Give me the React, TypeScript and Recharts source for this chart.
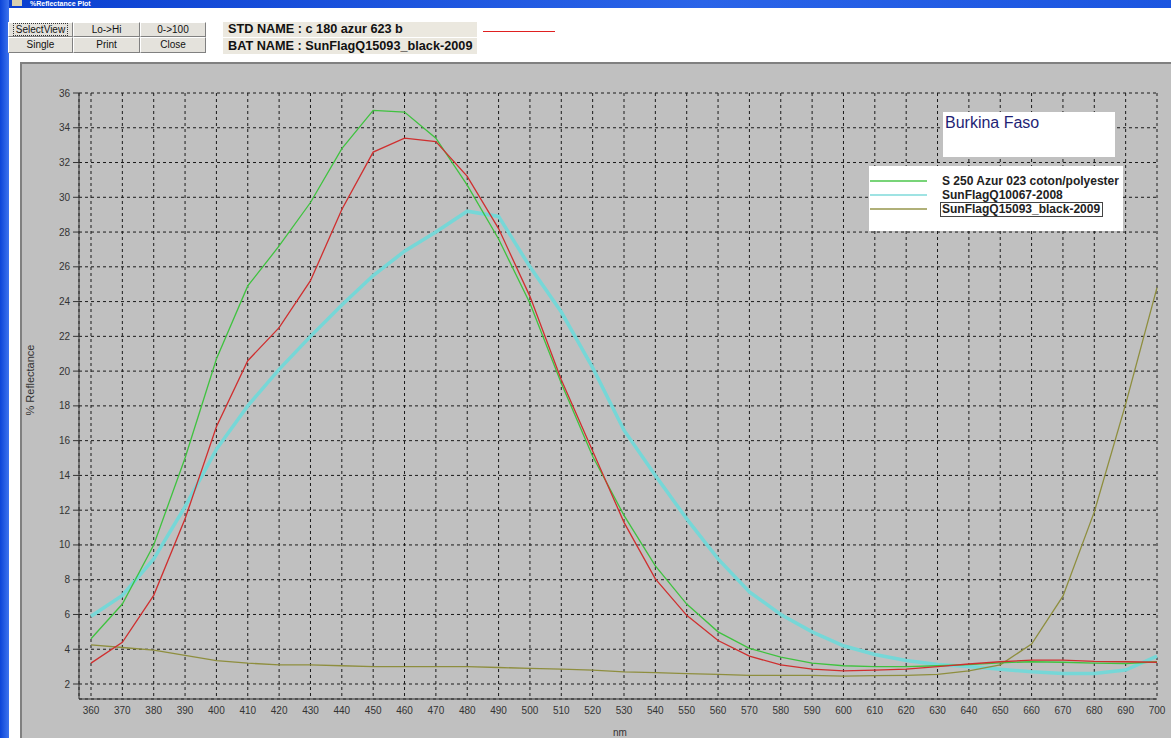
import React from 'react';
import { LineChart, Line, XAxis, YAxis, CartesianGrid } from 'recharts';

// Wavelengths (nm) sampled every 10 nm
const wavelengths = [
  360, 370, 380, 390, 400, 410, 420, 430, 440, 450, 460, 470, 480, 490, 500, 510, 520,
  530, 540, 550, 560, 570, 580, 590, 600, 610, 620, 630, 640, 650, 660, 670, 680, 690, 700,
];

// Standard: c 180 azur 623 b (red)
const stdAzur623 = [
  3.2, 4.4, 7.1, 11.5, 16.8, 20.6, 22.5, 25.2, 29.3, 32.6, 33.4, 33.2, 31.2, 28.2, 24.3, 19.5, 15.4,
  11.3, 8.05, 5.95, 4.5, 3.6, 3.1, 2.85, 2.75, 2.8, 2.85, 3.0, 3.15, 3.28, 3.37, 3.37, 3.3, 3.28, 3.25,
];

// S 250 Azur 023 coton/polyester (green)
const s250Azur023 = [
  4.6, 6.6, 10.0, 15.0, 20.7, 24.9, 27.2, 29.7, 32.8, 35.0, 34.9, 33.4, 30.7, 27.6, 23.9, 19.3, 15.1,
  11.7, 8.8, 6.6, 5.0, 4.05, 3.55, 3.2, 3.05, 3.0, 3.0, 3.05, 3.12, 3.22, 3.28, 3.25, 3.2, 3.18, 3.28,
];

// SunFlagQ10067-2008 (cyan)
const sunFlagQ10067 = [
  5.9, 7.1, 9.2, 12.2, 15.5, 18.0, 20.1, 22.0, 23.8, 25.5, 26.9, 28.0, 29.2, 28.9, 26.0, 23.4, 20.2,
  16.6, 14.0, 11.5, 9.2, 7.3, 6.0, 5.0, 4.2, 3.7, 3.35, 3.12, 3.0, 2.85, 2.7, 2.6, 2.6, 2.8, 3.6,
];

// SunFlagQ15093_black-2009 (olive)
const sunFlagQ15093 = [
  4.25, 4.1, 3.95, 3.65, 3.35, 3.2, 3.1, 3.1, 3.05, 3.0, 3.0, 3.0, 3.0, 2.95, 2.9, 2.85, 2.8,
  2.7, 2.65, 2.6, 2.55, 2.5, 2.5, 2.5, 2.45, 2.48, 2.5, 2.55, 2.75, 3.1, 4.3, 7.05, 11.9, 18.1, 24.8,
];

const reflectanceTicks = [2, 4, 6, 8, 10, 12, 14, 16, 18, 20, 22, 24, 26, 28, 30, 32, 34, 36];

const legendNames = ['S 250 Azur 023 coton/polyester', 'SunFlagQ10067-2008', 'SunFlagQ15093_black-2009'];
const buttonLabels = [['SelectView', 'Lo->Hi', '0->100'], ['Single', 'Print', 'Close']];

const COLORS = {
  std: '#cf2f2f',
  s250: '#3fc23f',
  q10067: '#76d7d7',
  q15093: '#8e8e3e',
};

const rows = wavelengths.map((nm, i) => ({
  nm,
  std: stdAzur623[i],
  s250: s250Azur023[i],
  q10067: sunFlagQ10067[i],
  q15093: sunFlagQ15093[i],
}));

const FONT = '"Liberation Sans", Arial, sans-serif';
const tickStyle = { fontSize: 10, fill: '#333', fontFamily: FONT };

const btnStyle = (left: number, top: number, width: number, height: number): React.CSSProperties => ({
  position: 'absolute',
  left,
  top,
  width,
  height,
  boxSizing: 'border-box',
  background: '#e4e2dc',
  borderTop: '1px solid #ffffff',
  borderLeft: '1px solid #ffffff',
  borderRight: '1px solid #808080',
  borderBottom: '1px solid #808080',
  fontFamily: FONT,
  fontSize: 10,
  color: '#111',
  textAlign: 'center',
  lineHeight: `${height - 2}px`,
});

const nameStyle = (top: number, height: number): React.CSSProperties => ({
  position: 'absolute',
  left: 223,
  top,
  width: 254,
  height,
  background: '#ebe8df',
  fontWeight: 'bold',
  fontSize: 12.7,
  lineHeight: `${height}px`,
  paddingLeft: 5,
  boxSizing: 'border-box',
  color: '#111',
  whiteSpace: 'nowrap',
});

export default function App() {
  const colX = [8, 73, 140];
  const colW = [65, 67, 66];
  const rowY = [22, 37];
  const rowH = [15, 16];

  return (
    <div
      style={{
        position: 'absolute',
        left: 0,
        top: 0,
        width: 1171,
        height: 738,
        background: '#ffffff',
        overflow: 'hidden',
        fontFamily: FONT,
      }}
    >
      {/* window frame */}
      <div style={{ position: 'absolute', left: 0, top: 0, width: 1171, height: 8, background: 'linear-gradient(90deg,#0a3fd0,#2a64e8 60%,#1b55e0)' }}>
        <div style={{ position: 'absolute', left: 12, top: 0, width: 10, height: 6, background: '#d8d0b0' }} />
        <div style={{ position: 'absolute', left: 30, top: 0, color: '#fff', fontWeight: 'bold', fontSize: 7, lineHeight: '8px', whiteSpace: 'nowrap' }}>%Reflectance Plot</div>
      </div>
      <div style={{ position: 'absolute', left: 0, top: 0, width: 9, height: 738, background: 'linear-gradient(90deg,#0b44d8,#3d74ee)' }} />

      {/* toolbar buttons */}
      {buttonLabels.map((row, r) =>
        row.map((label, c) => (
          <div key={label} style={btnStyle(colX[c], rowY[r], colW[c], rowH[r])}>
            {r === 0 && c === 0 ? (
              <span style={{ outline: '1px dotted #333', padding: '0 2px' }}>{label}</span>
            ) : (
              label
            )}
          </div>
        ))
      )}

      {/* name labels */}
      <div style={nameStyle(22, 15)}>STD NAME : c 180 azur 623 b</div>
      <div style={nameStyle(38, 16)}>BAT NAME : SunFlagQ15093_black-2009</div>
      <div style={{ position: 'absolute', left: 483, top: 31, width: 72, height: 0, borderTop: '1px solid #e02020' }} />

      {/* plot panel */}
      <div style={{ position: 'absolute', left: 20, top: 62, width: 1151, height: 676, background: '#c0c0c0', borderTop: '2px solid #808080', borderLeft: '2px solid #808080', boxSizing: 'border-box' }} />

      <div style={{ position: 'absolute', left: 0, top: 0 }}>
        <LineChart width={1171} height={738} data={rows} margin={{ top: 93, right: 14, bottom: 9, left: 29 }}>
          <CartesianGrid stroke="#1a1a1a" strokeDasharray="3 3" strokeWidth={1} fill="none" />
          <XAxis
            dataKey="nm"
            type="number"
            domain={[360, 700]}
            ticks={wavelengths}
            interval={0}
            padding={{ left: 12, right: 0 }}
            height={30}
            tickLine={false}
            tickSize={0}
            tickMargin={8}
            axisLine={{ stroke: '#333' }}
            tick={tickStyle}
          />
          <YAxis
            type="number"
            domain={[2, 36]}
            ticks={reflectanceTicks}
            interval={0}
            padding={{ top: 0, bottom: 15 }}
            width={50}
            tickSize={6}
            tickMargin={3}
            axisLine={{ stroke: '#333' }}
            tickLine={{ stroke: '#333' }}
            tick={tickStyle}
          />
          <Line type="linear" dataKey="q10067" stroke={COLORS.q10067} strokeWidth={3.5} dot={false} isAnimationActive={false} />
          <Line type="linear" dataKey="q15093" stroke={COLORS.q15093} strokeWidth={1.3} dot={false} isAnimationActive={false} />
          <Line type="linear" dataKey="s250" stroke={COLORS.s250} strokeWidth={1.3} dot={false} isAnimationActive={false} />
          <Line type="linear" dataKey="std" stroke={COLORS.std} strokeWidth={1.3} dot={false} isAnimationActive={false} />
        </LineChart>
      </div>

      {/* axis titles */}
      <div style={{ position: 'absolute', left: 30, top: 380, transform: 'translate(-50%,-50%) rotate(-90deg)', fontSize: 11, color: '#333', whiteSpace: 'nowrap' }}>
        % Reflectance
      </div>
      <div style={{ position: 'absolute', left: 613, top: 727, fontSize: 10, color: '#333' }}>nm</div>

      {/* title box */}
      <div style={{ position: 'absolute', left: 943, top: 112, width: 172, height: 45, background: '#ffffff' }}>
        <div style={{ position: 'absolute', left: 2, top: 2, fontSize: 16, color: '#1f1f75', whiteSpace: 'nowrap' }}>Burkina Faso</div>
      </div>

      {/* series legend */}
      <div style={{ position: 'absolute', left: 869, top: 166, width: 254, height: 65, background: '#ffffff' }}>
        {legendNames.map((name, i) => {
          const color = [COLORS.s250, COLORS.q10067, COLORS.q15093][i];
          const cy = 15 + i * 14;
          return (
            <React.Fragment key={name}>
              <div style={{ position: 'absolute', left: 1, top: cy - 1, width: 57, height: 2, background: color, opacity: 0.7 }} />
              <div
                style={{
                  position: 'absolute',
                  left: 71,
                  top: cy - 7,
                  height: 13,
                  lineHeight: '13px',
                  fontSize: 12,
                  fontWeight: 'bold',
                  color: '#222',
                  whiteSpace: 'nowrap',
                  padding: '0 2px 0 1px',
                  border: i === 2 ? '1px solid #444' : '1px solid transparent',
                }}
              >
                {name}
              </div>
            </React.Fragment>
          );
        })}
      </div>
    </div>
  );
}
